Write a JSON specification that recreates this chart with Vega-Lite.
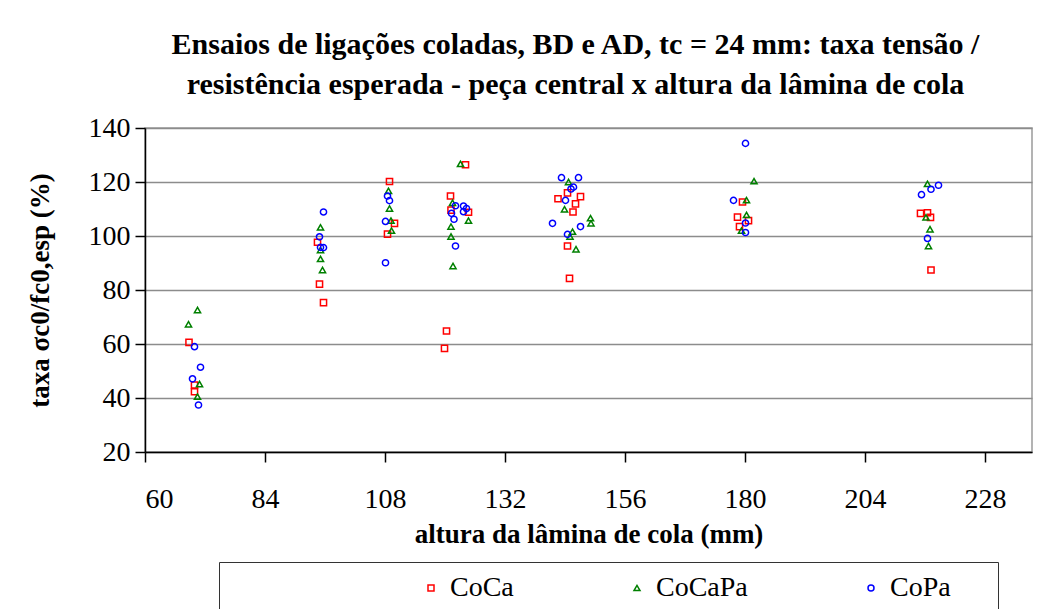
{
  "$schema": "https://vega.github.io/schema/vega-lite/v6.json",
  "autosize": "none",
  "width": 887,
  "height": 324,
  "padding": {"left": 145, "top": 128, "right": 7, "bottom": 157},
  "background": "white",
  "title": {
    "text": ["Ensaios de ligações coladas, BD e AD, tc = 24 mm: taxa tensão /", "resistência esperada - peça central x altura da lâmina de cola"],
    "font": "Liberation Serif",
    "fontSize": 30,
    "fontWeight": "bold",
    "lineHeight": 40,
    "anchor": "middle",
    "frame": "group",
    "dx": -13,
    "offset": 14,
    "color": "black"
  },
  "data": {
    "values": [
      {"x": 68.8, "y": 60.6, "s": "CoCa"},
      {"x": 69.9, "y": 44.8, "s": "CoCa"},
      {"x": 69.9, "y": 42.3, "s": "CoCa"},
      {"x": 94.5, "y": 97.7, "s": "CoCa"},
      {"x": 94.9, "y": 82.2, "s": "CoCa"},
      {"x": 95.7, "y": 75.3, "s": "CoCa"},
      {"x": 108.9, "y": 120.2, "s": "CoCa"},
      {"x": 109.9, "y": 104.7, "s": "CoCa"},
      {"x": 108.5, "y": 100.7, "s": "CoCa"},
      {"x": 124.1, "y": 126.4, "s": "CoCa"},
      {"x": 121.1, "y": 114.8, "s": "CoCa"},
      {"x": 121.2, "y": 109.6, "s": "CoCa"},
      {"x": 124.7, "y": 108.8, "s": "CoCa"},
      {"x": 120.3, "y": 64.8, "s": "CoCa"},
      {"x": 119.9, "y": 58.4, "s": "CoCa"},
      {"x": 144.5, "y": 116.0, "s": "CoCa"},
      {"x": 142.6, "y": 113.8, "s": "CoCa"},
      {"x": 147.1, "y": 114.6, "s": "CoCa"},
      {"x": 146.1, "y": 111.9, "s": "CoCa"},
      {"x": 145.6, "y": 108.9, "s": "CoCa"},
      {"x": 144.5, "y": 96.3, "s": "CoCa"},
      {"x": 144.9, "y": 84.3, "s": "CoCa"},
      {"x": 179.5, "y": 112.6, "s": "CoCa"},
      {"x": 178.5, "y": 107.0, "s": "CoCa"},
      {"x": 180.7, "y": 105.7, "s": "CoCa"},
      {"x": 178.9, "y": 103.5, "s": "CoCa"},
      {"x": 215.1, "y": 108.4, "s": "CoCa"},
      {"x": 216.5, "y": 108.6, "s": "CoCa"},
      {"x": 217.1, "y": 106.9, "s": "CoCa"},
      {"x": 217.2, "y": 87.4, "s": "CoCa"},
      {"x": 70.5, "y": 72.6, "s": "CoCaPa"},
      {"x": 68.7, "y": 67.3, "s": "CoCaPa"},
      {"x": 70.9, "y": 45.2, "s": "CoCaPa"},
      {"x": 70.5, "y": 40.5, "s": "CoCaPa"},
      {"x": 95.1, "y": 103.2, "s": "CoCaPa"},
      {"x": 95.1, "y": 94.8, "s": "CoCaPa"},
      {"x": 95.1, "y": 91.5, "s": "CoCaPa"},
      {"x": 95.5, "y": 87.4, "s": "CoCaPa"},
      {"x": 108.7, "y": 116.7, "s": "CoCaPa"},
      {"x": 108.9, "y": 110.2, "s": "CoCaPa"},
      {"x": 109.2, "y": 105.7, "s": "CoCaPa"},
      {"x": 109.3, "y": 102.0, "s": "CoCaPa"},
      {"x": 123.1, "y": 126.7, "s": "CoCaPa"},
      {"x": 121.5, "y": 112.3, "s": "CoCaPa"},
      {"x": 124.7, "y": 105.7, "s": "CoCaPa"},
      {"x": 121.2, "y": 103.5, "s": "CoCaPa"},
      {"x": 121.2, "y": 99.8, "s": "CoCaPa"},
      {"x": 121.6, "y": 88.9, "s": "CoCaPa"},
      {"x": 144.7, "y": 120.0, "s": "CoCaPa"},
      {"x": 143.9, "y": 109.9, "s": "CoCaPa"},
      {"x": 149.1, "y": 106.6, "s": "CoCaPa"},
      {"x": 149.2, "y": 104.7, "s": "CoCaPa"},
      {"x": 145.5, "y": 101.6, "s": "CoCaPa"},
      {"x": 145.0, "y": 99.8, "s": "CoCaPa"},
      {"x": 146.2, "y": 95.1, "s": "CoCaPa"},
      {"x": 181.8, "y": 120.3, "s": "CoCaPa"},
      {"x": 180.3, "y": 113.3, "s": "CoCaPa"},
      {"x": 180.3, "y": 107.8, "s": "CoCaPa"},
      {"x": 179.3, "y": 102.0, "s": "CoCaPa"},
      {"x": 216.5, "y": 119.3, "s": "CoCaPa"},
      {"x": 216.2, "y": 106.9, "s": "CoCaPa"},
      {"x": 217.0, "y": 102.5, "s": "CoCaPa"},
      {"x": 216.7, "y": 96.3, "s": "CoCaPa"},
      {"x": 69.9, "y": 59.0, "s": "CoPa"},
      {"x": 71.1, "y": 51.4, "s": "CoPa"},
      {"x": 69.5, "y": 47.1, "s": "CoPa"},
      {"x": 70.7, "y": 37.4, "s": "CoPa"},
      {"x": 95.7, "y": 108.9, "s": "CoPa"},
      {"x": 94.9, "y": 99.7, "s": "CoPa"},
      {"x": 95.1, "y": 95.8, "s": "CoPa"},
      {"x": 95.7, "y": 95.7, "s": "CoPa"},
      {"x": 108.5, "y": 114.8, "s": "CoPa"},
      {"x": 108.9, "y": 113.1, "s": "CoPa"},
      {"x": 108.1, "y": 105.4, "s": "CoPa"},
      {"x": 108.1, "y": 90.1, "s": "CoPa"},
      {"x": 122.1, "y": 111.2, "s": "CoPa"},
      {"x": 123.7, "y": 111.1, "s": "CoPa"},
      {"x": 124.3, "y": 110.2, "s": "CoPa"},
      {"x": 123.7, "y": 109.0, "s": "CoPa"},
      {"x": 121.3, "y": 108.4, "s": "CoPa"},
      {"x": 121.8, "y": 106.2, "s": "CoPa"},
      {"x": 122.1, "y": 96.3, "s": "CoPa"},
      {"x": 143.3, "y": 121.6, "s": "CoPa"},
      {"x": 146.7, "y": 121.6, "s": "CoPa"},
      {"x": 145.7, "y": 118.1, "s": "CoPa"},
      {"x": 145.2, "y": 117.4, "s": "CoPa"},
      {"x": 144.1, "y": 113.2, "s": "CoPa"},
      {"x": 141.5, "y": 104.7, "s": "CoPa"},
      {"x": 147.1, "y": 103.5, "s": "CoPa"},
      {"x": 144.5, "y": 100.6, "s": "CoPa"},
      {"x": 180.1, "y": 134.3, "s": "CoPa"},
      {"x": 177.7, "y": 113.2, "s": "CoPa"},
      {"x": 180.1, "y": 104.8, "s": "CoPa"},
      {"x": 180.1, "y": 101.3, "s": "CoPa"},
      {"x": 218.7, "y": 118.8, "s": "CoPa"},
      {"x": 217.2, "y": 117.3, "s": "CoPa"},
      {"x": 215.3, "y": 115.3, "s": "CoPa"},
      {"x": 216.5, "y": 99.1, "s": "CoPa"}
    ]
  },
  "mark": {"type": "point", "filled": false, "strokeWidth": 1.5, "size": 38, "opacity": 1},
  "encoding": {
    "x": {
      "field": "x",
      "type": "quantitative",
      "scale": {"domain": [60, 237.4], "nice": false, "zero": false},
      "axis": {
        "title": "altura da lâmina de cola (mm)",
        "values": [60, 84, 108, 132, 156, 180, 204, 228],
        "grid": false,
        "tickSize": 10,
        "labelPadding": 23,
        "titlePadding": 8
      }
    },
    "y": {
      "field": "y",
      "type": "quantitative",
      "scale": {"domain": [20, 140], "nice": false, "zero": false},
      "axis": {
        "title": "taxa σc0/fc0,esp (%)",
        "values": [20, 40, 60, 80, 100, 120, 140],
        "grid": true,
        "tickSize": 10,
        "labelPadding": 5,
        "titlePadding": 34
      }
    },
    "color": {
      "field": "s",
      "type": "nominal",
      "scale": {"domain": ["CoCa", "CoCaPa", "CoPa"], "range": ["#ff0000", "#008000", "#0000ff"]},
      "legend": {
        "orient": "none",
        "legendX": 74,
        "legendY": 434,
        "direction": "horizontal",
        "title": "..........................",
        "titleOrient": "left",
        "titleFontSize": 28,
        "titleFontWeight": "normal",
        "titleOpacity": 0,
        "titleLimit": 500,
        "titlePadding": 4,
        "labelExpr": "datum.label == 'CoPa' ? 'CoPa\u00a0\u00a0\u2800' : datum.label",
        "labelLimit": 500
      }
    },
    "shape": {
      "field": "s",
      "type": "nominal",
      "scale": {"domain": ["CoCa", "CoCaPa", "CoPa"], "range": ["square", "triangle-up", "circle"]}
    }
  },
  "config": {
    "font": "Liberation Serif",
    "view": {"stroke": "#9a9a9a", "strokeWidth": 1.5},
    "axis": {
      "labelFont": "Liberation Serif",
      "labelFontSize": 28,
      "labelColor": "black",
      "titleFont": "Liberation Serif",
      "titleFontSize": 27,
      "titleFontWeight": "bold",
      "titleColor": "black",
      "domainColor": "black",
      "domainWidth": 1.5,
      "tickColor": "black",
      "tickWidth": 1.5,
      "gridColor": "#8c8c8c",
      "gridWidth": 1.3
    },
    "legend": {
      "labelFont": "Liberation Serif",
      "labelFontSize": 28,
      "labelColor": "black",
      "labelOffset": 5,
      "symbolSize": 36,
      "symbolStrokeWidth": 1.5,
      "columnPadding": 109,
      "padding": 12,
      "strokeColor": "#333333",
      "fillColor": "white",
      "cornerRadius": 0
    }
  }
}
